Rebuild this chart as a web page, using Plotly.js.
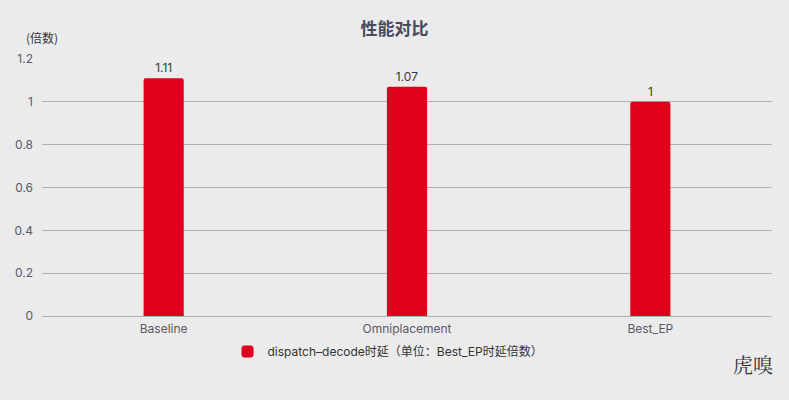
<!DOCTYPE html>
<html><head><meta charset="utf-8">
<script src="https://cdn.plot.ly/plotly-3.0.1.min.js"></script>
<style>html,body{margin:0;padding:0;background:#ebebeb;}#chart{width:789px;height:400px;}</style>
</head><body><div id="chart"></div>
<script>
const categories = ["Baseline", "Omniplacement", "Best_EP"];
const values = [1.11, 1.07, 1];
const labels = ["1.11", "1.07", "1"];
const seriesName = "dispatch\u2013decode时延（单位：Best_EP时延倍数）";
const tickVals = [0, 0.2, 0.4, 0.6, 0.8, 1, 1.2];
const tickText = ["0", "0.2", "0.4", "0.6", "0.8", "1", "1.2"];

const font = "Inter, 'Noto Sans CJK SC', sans-serif";
Plotly.newPlot("chart", [{
  type: "bar", x: categories, y: values, name: seriesName,
  text: labels, textposition: "outside", cliponaxis: false,
  textfont: {size: 12, color: "#3a3a3a", family: font},
  marker: {color: "#e0001b", cornerradius: 2},
  width: 0.165, showlegend: true
}], {
  width: 789, height: 400,
  paper_bgcolor: "#ebebeb", plot_bgcolor: "#ebebeb",
  margin: {l: 42, r: 17, t: 59, b: 84},
  font: {family: font, color: "#595968", size: 12},
  title: {text: "<b>性能对比</b>", x: 0.5, xanchor: "center", y: 0.927, yanchor: "middle",
          font: {size: 17, color: "#4a4a5e", family: "'Noto Sans CJK SC', sans-serif"}},
  xaxis: {type: "category", showgrid: false, zeroline: false, showline: false, ticks: "",
          ticklabelstandoff: 4, tickfont: {size: 12, color: "#595968"}},
  yaxis: {range: [0, 1.2], tickvals: tickVals, ticktext: tickText, showgrid: true,
          gridcolor: "#b0b0b0", gridwidth: 1, zeroline: true, zerolinecolor: "#b0b0b0",
          showline: false, ticks: "", ticklabelstandoff: 8, tickfont: {size: 12, color: "#595968"}},
  showlegend: true,
  legend: {orientation: "h", x: 0.474, xanchor: "center", y: -0.138, yanchor: "middle",
           itemwidth: 30, font: {size: 12, color: "#333"}, bgcolor: "rgba(0,0,0,0)"},
  bargap: 0.5,
  annotations: [
    {text: "(倍数)", xref: "paper", yref: "paper", x: -0.024, y: 1.085, xanchor: "left", yanchor: "middle",
     showarrow: false, font: {size: 12, color: "#333", family: "'Noto Sans CJK SC', sans-serif"}},
    {text: "虎嗅", xref: "paper", yref: "paper", x: 1.004, y: -0.19, xanchor: "right", yanchor: "middle",
     showarrow: false, font: {size: 20, color: "#333", family: "'Noto Serif CJK SC', 'Noto Sans CJK SC', serif"}}
  ]
}, {displayModeBar: false, staticPlot: true});
</script></body></html>
